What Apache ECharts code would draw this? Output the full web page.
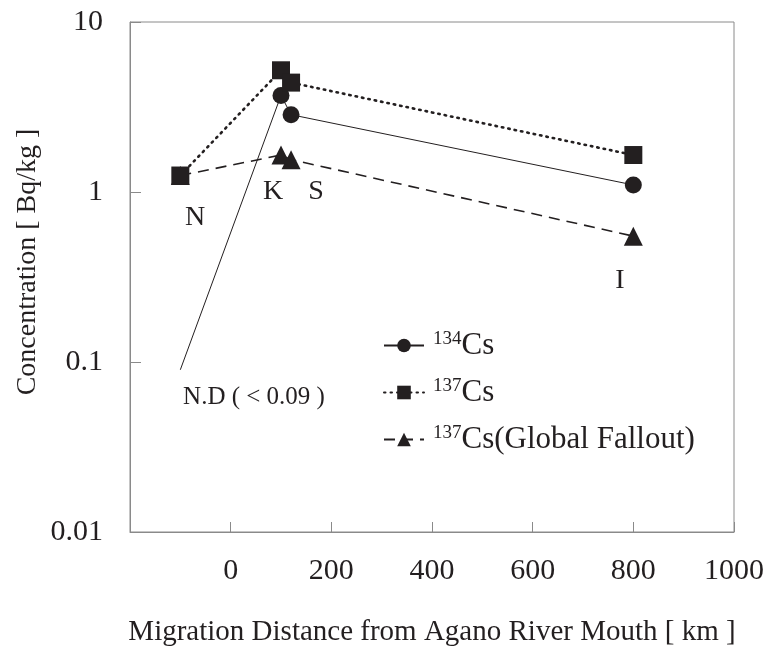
<!DOCTYPE html>
<html>
<head>
<meta charset="utf-8">
<script src="https://cdn.jsdelivr.net/npm/echarts@6/dist/echarts.min.js"></script>
<style>
  html, body { margin: 0; padding: 0; background: #fff; }
  #chart { width: 771px; height: 652px; }
</style>
</head>
<body>
<div id="chart"></div>
<script>
// Sampling sites along the river (distance from the mouth, km)
const distances = [-100, 100, 120, 800];
const siteNames = ['N', 'K', 'S', 'I'];

// Concentrations in Bq/kg (134Cs at N is below detection, drawn at the limit)
const cs134 = [0.09, 3.7, 2.85, 1.1];
const cs137 = [1.25, 5.2, 4.4, 1.65];
const cs137Global = [1.25, 1.65, 1.55, 0.55];

const xTicks = [0, 200, 400, 600, 800, 1000];
const yTicks = [0.01, 0.1, 1, 10];

const serif = '"Liberation Serif", "DejaVu Serif", serif';
const ink = '#231f20';
const frame = '#8a8a8a';

function pairs(vals) {
  return distances.map((d, i) => [d, vals[i]]);
}

function siteText(x, y, text, size) {
  return {
    type: 'text', x: x, y: y,
    style: { text: text, fontFamily: serif, fontSize: size, fill: ink, align: 'center', verticalAlign: 'middle' }
  };
}

const chart = echarts.init(document.getElementById('chart'), null, { renderer: 'canvas' });

const option = {
  backgroundColor: '#ffffff',
  animation: false,
  grid: {
    left: 130, right: 37, top: 22, bottom: 116,
    show: true, borderColor: frame, borderWidth: 1
  },
  xAxis: {
    type: 'value', min: -200, max: 1000, interval: 200,
    axisLine: { show: true, onZero: false, lineStyle: { color: frame, width: 1 } },
    axisTick: { show: true, inside: true, length: 10, lineStyle: { color: frame } },
    splitLine: { show: false },
    axisLabel: {
      margin: 24, fontFamily: serif, fontSize: 30, color: ink,
      formatter: v => (xTicks.indexOf(v) >= 0 ? String(v) : '')
    },
    name: 'Migration Distance from Agano River Mouth [ km ]',
    nameLocation: 'middle', nameGap: 86,
    nameTextStyle: { fontFamily: serif, fontSize: 29, color: ink }
  },
  yAxis: {
    type: 'log', logBase: 10, min: 0.01, max: 10,
    axisLine: { show: true, onZero: false, lineStyle: { color: frame, width: 1 } },
    axisTick: { show: true, inside: true, length: 11, lineStyle: { color: frame } },
    minorTick: { show: false },
    splitLine: { show: false },
    axisLabel: {
      margin: 27, fontFamily: serif, fontSize: 30, color: ink,
      formatter: v => {
        const t = yTicks.find(y => Math.abs(Math.log10(y) - Math.log10(v)) < 1e-6);
        return t === undefined ? '' : String(t);
      }
    }
  },
  legend: {
    orient: 'vertical', left: 378, top: 325,
    itemWidth: 40, itemHeight: 17, itemGap: 16,
    selectedMode: false,
    textStyle: {
      fontFamily: serif, fontSize: 31, color: ink,
      rich: {
        sup: { fontFamily: serif, fontSize: 19, color: ink, verticalAlign: 'top', padding: [0, 0, 12, 4] },
        main: { fontFamily: serif, fontSize: 31, color: ink }
      }
    },
    formatter: name => {
      if (name === '134Cs') return '{sup|134}{main|Cs}';
      if (name === '137Cs') return '{sup|137}{main|Cs}';
      return '{sup|137}{main|Cs(Global Fallout)}';
    },
    data: ['134Cs', '137Cs', '137Cs(Global Fallout)']
  },
  graphic: [
    {
      type: 'text', x: 28, y: 262, rotation: Math.PI / 2,
      style: {
        text: 'Concentration [ Bq/kg ]', fontFamily: serif, fontSize: 28,
        fill: ink, align: 'center', verticalAlign: 'middle'
      }
    },
    siteText(195, 218, siteNames[0], 28),
    siteText(273, 192, siteNames[1], 28),
    siteText(316, 192, siteNames[2], 28),
    siteText(620, 281, siteNames[3], 28),
    siteText(254, 397, 'N.D ( < 0.09 )', 25)
  ],
  series: [
    {
      name: '137Cs(Global Fallout)', type: 'line', z: 2,
      data: pairs(cs137Global),
      symbol: 'triangle', symbolSize: 19,
      itemStyle: { color: ink },
      lineStyle: { color: ink, width: 1.6, type: [11, 7] }
    },
    {
      name: '134Cs', type: 'line', z: 3,
      data: pairs(cs134).map((p, i) => (i === 0 ? { value: p, symbol: 'none' } : p)),
      symbol: 'circle', symbolSize: 17,
      itemStyle: { color: ink },
      lineStyle: { color: ink, width: 1 }
    },
    {
      name: '137Cs', type: 'line', z: 4,
      data: pairs(cs137),
      symbol: 'rect', symbolSize: 18,
      itemStyle: { color: ink },
      lineStyle: { color: ink, width: 2.6, type: [1.5, 5], cap: 'round' }
    }
  ]
};

chart.setOption(option);
</script>
</body>
</html>
